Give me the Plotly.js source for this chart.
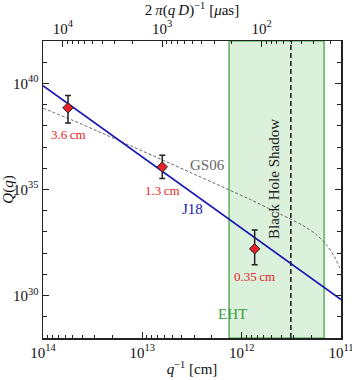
<!DOCTYPE html>
<html>
<head>
<meta charset="utf-8">
<script src="https://cdn.plot.ly/plotly-3.0.1.min.js"></script>
<style>
  html, body { margin: 0; padding: 0; background: #fff; }
  #chart { width: 352px; height: 380px; }
</style>
</head>
<body>
<div id="chart"></div>
<script>
// Axis ticks
const bottomTickVals = [1e14, 1e13, 1e12, 1e11];
const bottomTickText = ['10<sup>14</sup>', '10<sup>13</sup>', '10<sup>12</sup>', '10<sup>11</sup>'];
const topTickVals = [1e4, 1e3, 1e2];
const topTickText = ['10<sup>4</sup>', '10<sup>3</sup>', '10<sup>2</sup>'];
const yTickVals = [1e30, 1e35, 1e40];
const yTickText = ['10<sup>30</sup>', '10<sup>35</sup>', '10<sup>40</sup>'];

// Measurements (red diamonds)
const obsQinv = [5.6e13, 6.3e12, 7.4e11];
const obsQ = [7.1e38, 1.15e36, 1.6e32];
const obsQhi = [2.7e39, 4.1e36, 1.23e33];
const obsQlo = [1.35e38, 3.3e35, 2.8e31];
const obsLabels = ['3.6\u2009cm', '1.3\u2009cm', '0.35\u2009cm'];

// J18 power law
const j18Qinv = [1e14, 1e11];
const j18Q = [7.8e39, 6.5e29];

// GS06 model
const gs06Qinv = [1e14, 5.0e13, 2.5e13, 1.26e13, 6.3e12, 3.2e12, 1.6e12, 8.0e11, 4.0e11, 2.5e11, 1.8e11, 1.4e11, 1.17e11, 1e11];
const gs06Q = [6.8e38, 1.8e38, 4.4e37, 1.05e37, 2.5e36, 6.0e35, 1.4e35, 3.2e34, 6.6e33, 2.2e33, 8.0e32, 2.5e32, 7.0e31, 1.6e31];

// EHT band and black hole shadow scale
const ehtQinv = [1.34e12, 1.48e11];
const shadowQinv = 3.2e11;

const yMin = 1e28;
const yMax = 1e42;
const muasOffset = -9.8; // log10(theta/muas) - log10(q^-1/cm)

const serif = '"Liberation Serif", "DejaVu Serif", serif';
const green = '#3a9e3a';
const red = '#e8222a';

function minorTicks(lo, hi) {
    const vals = [];
    for (let e = lo; e < hi; e++) {
        for (let m = 2; m <= 9; m++) vals.push(m * Math.pow(10, e));
    }
    return vals;
}

function decadeTicks(lo, hi) {
    const vals = [];
    for (let e = lo; e <= hi; e++) vals.push(Math.pow(10, e));
    return vals;
}

const ehtBand = {
    x: [ehtQinv[0], ehtQinv[1], ehtQinv[1], ehtQinv[0], ehtQinv[0]],
    y: [yMin, yMin, yMax, yMax, yMin],
    mode: 'lines',
    fill: 'toself',
    fillcolor: '#dcf1dc',
    line: { color: green, width: 1.2 },
    hoverinfo: 'skip',
    type: 'scatter',
};

const shadowLine = {
    x: [shadowQinv, shadowQinv],
    y: [yMin, yMax],
    mode: 'lines',
    line: { color: '#222', width: 1.6, dash: '5px,3px' },
    type: 'scatter',
};

const gs06Trace = {
    x: gs06Qinv,
    y: gs06Q,
    mode: 'lines',
    line: { color: '#666', width: 1, dash: '3px,2px', shape: 'spline', smoothing: 0.6 },
    type: 'scatter',
};

const j18Trace = {
    x: j18Qinv,
    y: j18Q,
    mode: 'lines',
    line: { color: '#1616b4', width: 1.6 },
    type: 'scatter',
};

const obsTrace = {
    x: obsQinv,
    y: obsQ,
    mode: 'markers',
    marker: { symbol: 'diamond', size: 8, color: red, line: { color: '#222', width: 1 } },
    error_y: {
        type: 'data',
        symmetric: false,
        array: obsQ.map((v, i) => obsQhi[i] - v),
        arrayminus: obsQ.map((v, i) => v - obsQlo[i]),
        color: '#222',
        thickness: 1.5,
        width: 3,
    },
    type: 'scatter',
};

// dummy trace so the top axis is drawn
const topAxisTrace = {
    x: [1e3],
    y: [1e35],
    xaxis: 'x2',
    mode: 'markers',
    marker: { opacity: 0 },
    hoverinfo: 'skip',
    type: 'scatter',
};

const annotations = obsQinv.map((q, i) => ({
    x: Math.log10(q),
    y: Math.log10(obsQlo[i]),
    xref: 'x',
    yref: 'y',
    text: obsLabels[i],
    showarrow: false,
    yanchor: 'top',
    yshift: -2,
    font: { family: serif, size: 13, color: red },
}));

annotations.push(
    { x: 192, y: 209, xref: 'paper', yref: 'paper', text: 'J18', showarrow: false,
      font: { family: serif, size: 15, color: '#1616b4' } },
    { x: 207, y: 165, xref: 'paper', yref: 'paper', text: 'GS06', showarrow: false,
      font: { family: serif, size: 15, color: '#666' } },
    { x: 249, y: 324, xref: 'paper', yref: 'paper', text: 'EHT', showarrow: false,
      font: { family: serif, size: 15, color: green } },
    { x: 284, y: 117, xref: 'paper', yref: 'paper', text: 'Black Hole Shadow', showarrow: false,
      textangle: -90, font: { family: serif, size: 15, color: '#222' } },
);

// convert pixel positions of free labels into paper coordinates
const W = 352, H = 380;
const margin = { l: 43, r: 11, t: 41, b: 42 };
const pw = W - margin.l - margin.r;
const ph = H - margin.t - margin.b;
annotations.forEach(a => {
    if (a.xref === 'paper') {
        a.x = (a.x - margin.l) / pw;
        a.y = 1 - (a.y - margin.t) / ph;
    }
});

const axisCommon = {
    type: 'log',
    showgrid: false,
    zeroline: false,
    showline: true,
    linecolor: '#222',
    linewidth: 1.5,
    ticks: 'inside',
    ticklen: 6,
    tickwidth: 1,
    tickcolor: '#222',
    tickmode: 'array',
    ticklabeloverflow: 'allow',
    tickfont: { family: serif, size: 15, color: '#111' },
};

const layout = {
    width: W,
    height: H,
    margin: margin,
    showlegend: false,
    paper_bgcolor: '#fff',
    plot_bgcolor: '#fff',
    font: { family: serif, size: 15, color: '#111' },
    xaxis: {
        ...axisCommon,
        range: [14, 11],
        tickvals: bottomTickVals,
        ticktext: bottomTickText,
        minor: { tickvals: minorTicks(11, 14), ticks: 'inside', ticklen: 3, tickcolor: '#222' },
        title: { text: '<i>q</i><sup>\u22121</sup> [cm]', standoff: 4, font: { family: serif, size: 15 } },
    },
    xaxis2: {
        ...axisCommon,
        overlaying: 'x',
        side: 'top',
        range: [14 + muasOffset, 11 + muasOffset],
        tickvals: topTickVals,
        ticktext: topTickText,
        minor: { tickvals: minorTicks(1, 5), ticks: 'inside', ticklen: 3, tickcolor: '#222' },
        title: { text: '2\u2009<i>\u03c0</i>(<i>q\u2009D</i>)<sup>\u22121</sup> [<i>\u03bc</i>as]', standoff: 4, font: { family: serif, size: 15 } },
    },
    yaxis: {
        ...axisCommon,
        range: [28, 42],
        mirror: 'ticks',
        tickvals: yTickVals,
        ticktext: yTickText,
        minor: { tickvals: decadeTicks(28, 42).filter(v => !yTickVals.includes(v)), ticks: 'inside', ticklen: 4, tickcolor: '#222' },
        title: { text: '<i>Q</i>(<i>q</i>)', standoff: 2, font: { family: serif, size: 15 } },
    },
    annotations: annotations,
};

Plotly.newPlot('chart', [ehtBand, shadowLine, gs06Trace, j18Trace, obsTrace, topAxisTrace], layout, { displayModeBar: false, staticPlot: true });
</script>
</body>
</html>
